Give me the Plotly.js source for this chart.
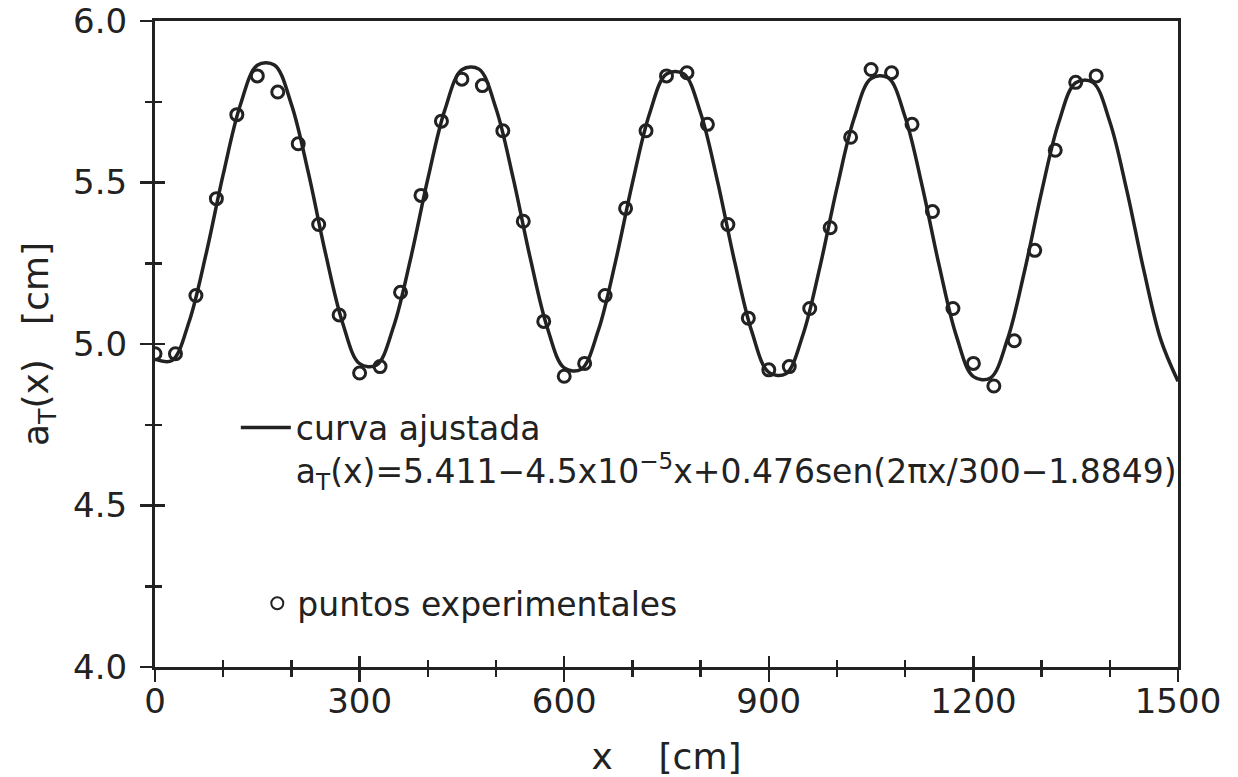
<!DOCTYPE html>
<html>
<head>
<meta charset="utf-8">
<script src="https://cdn.plot.ly/plotly-3.0.1.min.js"></script>
<style>
  html, body { margin: 0; padding: 0; background: #ffffff; }
  #chart { width: 1238px; height: 777px; }
</style>
</head>
<body>
<div id="chart"></div>
<script>
// ---- data ----
// experimental points (x in cm, a_T in cm)
const pointsX = [0, 30, 60, 90, 120, 150, 180, 210, 240, 270,
                 300, 330, 360, 390, 420, 450, 480, 510, 540, 570,
                 600, 630, 660, 690, 720, 750, 780, 810, 840, 870,
                 900, 930, 960, 990, 1020, 1050, 1080, 1110, 1140, 1170,
                 1200, 1230, 1260, 1290, 1320, 1350, 1380];
const pointsY = [4.97, 4.97, 5.15, 5.45, 5.71, 5.83, 5.78, 5.62, 5.37, 5.09,
                 4.91, 4.93, 5.16, 5.46, 5.69, 5.82, 5.80, 5.66, 5.38, 5.07,
                 4.90, 4.94, 5.15, 5.42, 5.66, 5.83, 5.84, 5.68, 5.37, 5.08,
                 4.92, 4.93, 5.11, 5.36, 5.64, 5.85, 5.84, 5.68, 5.41, 5.11,
                 4.94, 4.87, 5.01, 5.29, 5.60, 5.81, 5.83];

// fitted curve, every 25 cm
const curveX = [0, 25, 50, 75, 100, 125, 150, 175, 200, 225, 250, 275,
                300, 325, 350, 375, 400, 425, 450, 475, 500, 525, 550, 575,
                600, 625, 650, 675, 700, 725, 750, 775, 800, 825, 850, 875,
                900, 925, 950, 975, 1000, 1025, 1050, 1075, 1100, 1125, 1150, 1175,
                1200, 1225, 1250, 1275, 1300, 1325, 1350, 1375, 1400, 1425, 1450, 1475,
                1500];
const curveY = [4.953, 4.949, 5.069, 5.280, 5.525, 5.739, 5.863, 5.864, 5.742, 5.529, 5.281, 5.066,
                4.939, 4.935, 5.055, 5.266, 5.511, 5.725, 5.849, 5.851, 5.729, 5.515, 5.268, 5.052,
                4.926, 4.922, 5.042, 5.253, 5.498, 5.712, 5.836, 5.837, 5.715, 5.502, 5.254, 5.039,
                4.912, 4.908, 5.028, 5.239, 5.484, 5.698, 5.822, 5.824, 5.702, 5.488, 5.241, 5.025,
                4.899, 4.895, 5.015, 5.226, 5.471, 5.685, 5.809, 5.810, 5.688, 5.475, 5.227, 5.012,
                4.885];

const curveName = 'curva ajustada<br>a<sub>T</sub>(x)=5.411\u22124.5x10<sup>\u22125</sup>x+0.476sen(2\u03C0x/300\u22121.8849)';
const pointsName = 'puntos experimentales';
const xTitle = 'x    [cm]';
const yTitle = 'a<sub>T</sub>(x)   [cm]';

// ---- styling ----
const INK = '#222222';
const FONT = 'DejaVu Sans, Liberation Sans, Arial, sans-serif';

const traces = [
  {
    x: curveX, y: curveY, type: 'scatter', mode: 'lines',
    name: curveName, legend: 'legend',
    line: { color: INK, width: 3.5, shape: 'spline', smoothing: 1 },
    hoverinfo: 'skip'
  },
  {
    x: pointsX, y: pointsY, type: 'scatter', mode: 'markers',
    name: pointsName, legend: 'legend2',
    marker: { symbol: 'circle-open', size: 12, color: INK, line: { color: INK, width: 3 } },
    hoverinfo: 'skip'
  },
  {
    // carrier for the inner half of the crossing ticks
    x: [null], y: [null], xaxis: 'x2', yaxis: 'y2', type: 'scatter', mode: 'markers',
    showlegend: false, hoverinfo: 'skip'
  }
];

const tickCommon = { tickcolor: INK, tickwidth: 2.5 };

const layout = {
  width: 1238, height: 777,
  margin: { l: 155, r: 60, t: 21, b: 110 },
  paper_bgcolor: '#ffffff', plot_bgcolor: '#ffffff',
  font: { family: FONT, color: INK, size: 34 },
  showlegend: true,
  xaxis: Object.assign({
    range: [0, 1500], tick0: 0, dtick: 300,
    ticks: 'outside', ticklen: 12,
    minor: { tick0: 0, dtick: 100, ticks: 'outside', ticklen: 7, tickwidth: 2.5, tickcolor: INK, showgrid: false },
    showline: true, linewidth: 3, linecolor: INK, mirror: true,
    showgrid: false, zeroline: false,
    tickfont: { family: FONT, size: 34, color: INK },
    ticklabelstandoff: -10, ticklabeloverflow: 'allow',
    title: { text: xTitle, font: { family: FONT, size: 36, color: INK }, standoff: 26 },
    fixedrange: true
  }, tickCommon),
  yaxis: Object.assign({
    range: [4, 6], tick0: 4, dtick: 0.5, tickformat: '.1f',
    ticks: 'outside', ticklen: 12,
    minor: { tick0: 4, dtick: 0.25, ticks: 'outside', ticklen: 7, tickwidth: 2.5, tickcolor: INK, showgrid: false },
    showline: true, linewidth: 3, linecolor: INK, mirror: true,
    showgrid: false, zeroline: false,
    tickfont: { family: FONT, size: 34, color: INK },
    ticklabelstandoff: 6, ticklabeloverflow: 'allow',
    title: { text: yTitle, font: { family: FONT, size: 36, color: INK }, standoff: 14 },
    fixedrange: true
  }, tickCommon),
  xaxis2: Object.assign({
    overlaying: 'x', anchor: 'y', side: 'bottom',
    range: [0, 1500], tick0: 0, dtick: 300,
    ticks: 'inside', ticklen: 11,
    minor: { tick0: 0, dtick: 100, ticks: 'inside', ticklen: 7, tickwidth: 2.5, tickcolor: INK, showgrid: false },
    showticklabels: false, showline: true, linewidth: 3, linecolor: INK, mirror: true,
    showgrid: false, zeroline: false, fixedrange: true
  }, tickCommon),
  yaxis2: Object.assign({
    overlaying: 'y', anchor: 'x', side: 'left',
    range: [4, 6], tick0: 4, dtick: 0.5,
    ticks: 'inside', ticklen: 10,
    minor: { tick0: 4, dtick: 0.25, ticks: 'inside', ticklen: 7, tickwidth: 2.5, tickcolor: INK, showgrid: false },
    showticklabels: false, showline: true, linewidth: 3, linecolor: INK, mirror: true,
    showgrid: false, zeroline: false, fixedrange: true
  }, tickCommon),
  legend: {
    x: 0.079, xanchor: 'left', y: 0.414, yanchor: 'top',
    bgcolor: 'rgba(0,0,0,0)', borderwidth: 0,
    font: { family: FONT, size: 33, color: INK },
    itemwidth: 50, valign: 'top'
  },
  legend2: {
    x: 0.1, xanchor: 'left', y: 0.142, yanchor: 'top',
    bgcolor: 'rgba(0,0,0,0)', borderwidth: 0,
    font: { family: FONT, size: 33, color: INK },
    itemwidth: 30, itemsizing: 'constant'
  }
};

Plotly.newPlot('chart', traces, layout, { staticPlot: true, displayModeBar: false });
</script>
</body>
</html>
